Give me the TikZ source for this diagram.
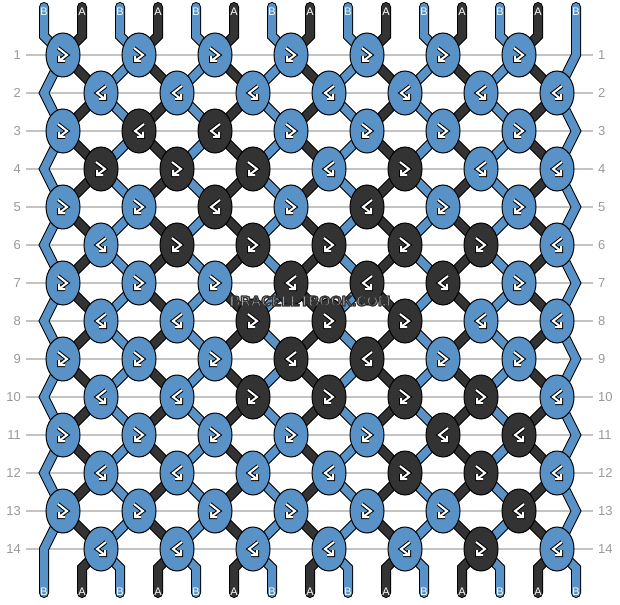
\documentclass[tikz,border=0pt]{standalone}
\usepackage{fontspec}
\setmainfont{Liberation Sans}
\usetikzlibrary{shapes.geometric}

\definecolor{strandb}{HTML}{5892C6}
\definecolor{stranda}{HTML}{333333}
\definecolor{rowgray}{HTML}{999999}
\definecolor{linegray}{HTML}{C4C4C4}
\definecolor{wmgray}{HTML}{B4B4B4}

\pgfdeclarelayer{grid}
\pgfdeclarelayer{strings}
\pgfsetlayers{grid,strings,main}

\newcommand\outlinetext[1]{\special{pdf:literal direct 2 Tr 0.2 0.2 0.2 RG 1.25 w 1 j}#1\special{pdf:literal direct 0 Tr}}

\tikzset{
  knot/.style={ellipse,draw,line width=1pt,minimum width=34pt,minimum height=44pt,inner sep=0pt},
  strb/.style={draw=black,line width=1pt,double=strandb,double distance=8pt,line join=miter,line cap=round},
  stra/.style={draw=black,line width=1pt,double=stranda,double distance=8pt,line join=miter,line cap=round},
  iconline/.style={draw=black,line width=1pt,double=white,double distance=2pt,line join=miter},
  endlabel/.style={text=white,font=\fontsize{11}{11}\selectfont,inner sep=0pt},
  rowlabel/.style={text=rowgray,font=\fontsize{13}{13}\selectfont,inner sep=0pt},
  gridline/.style={draw=linegray,line width=1.2pt},
  wmtext/.style={text=wmgray,font=\bfseries\fontsize{14.5}{14.5}\selectfont,inner sep=0pt},
  fbicon/.pic={\draw[iconline] (-5,-7) -- (4,0) -- (-4,6) (-4,1) -- (-4,6) -- (2,6);},
  bficon/.pic={\draw[iconline] (5,-7) -- (-4,0) -- (4,6) (4,1) -- (4,6) -- (-2,6);},
}

\begin{document}
\begin{tikzpicture}[x=1pt,y=-1pt]
  \useasboundingbox (0,0) rectangle (620,604);

  % knots, 0 = B, 1 = A
  \foreach \r/\pat in {1/{0,0,0,0,0,0,0},2/{0,0,0,0,0,0,0},3/{0,1,1,0,0,0,0},
      4/{1,1,1,0,1,0,0},5/{0,0,1,0,1,0,0},6/{0,1,1,1,1,1,0},7/{0,0,0,1,1,1,0},
      8/{0,0,1,1,1,0,0},9/{0,0,0,1,1,0,0},10/{0,0,1,1,1,1,0},11/{0,0,0,0,0,1,1},
      12/{0,0,0,0,1,1,0},13/{0,0,0,0,0,0,1},14/{0,0,0,0,0,1,0}} {
    \pgfmathsetmacro\y{55+38*(\r-1)}
    \node[rowlabel,anchor=east] (rl-\r) at (21,\y) {\r};
    \node[rowlabel,anchor=west] (rr-\r) at (598,\y) {\r};
    \foreach \c [count=\k] in \pat {
      \pgfmathsetmacro\x{63+38*mod(\r+1,2)+76*(\k-1)}
      \ifnum\c=1 \def\kfill{stranda}\else\def\kfill{strandb}\fi
      \node[knot,fill=\kfill] (k-\r-\k) at (\x,\y) {};
      \pgfmathtruncatemacro\t{mod(\r+\c,2)}
      \ifnum\t=1 \pic at (k-\r-\k) {fbicon}; \else \pic at (k-\r-\k) {bficon}; \fi
    }
  }

  % ends of the strings
  \foreach \i in {1,...,15} {
    \pgfmathsetmacro\x{44+38*(\i-1)}
    \coordinate (top-\i) at (\x,7);
    \coordinate (tb-\i) at (\x,36);
    \coordinate (bb-\i) at (\x,568);
    \coordinate (bot-\i) at (\x,593);
    \ifodd\i \def\lab{B}\else\def\lab{A}\fi
    \node[endlabel] (lt-\i) at (\x,12) {\lab};
    \node[endlabel] (lb-\i) at (\x,591.5) {\lab};
  }
  \foreach \r in {2,4,...,14} \coordinate (el-\r) at (44,{55+38*(\r-1)});
  \foreach \r in {1,3,...,13} \coordinate (er-\r) at (576,{55+38*(\r-1)});

  \begin{pgfonlayer}{grid}
    \foreach \r in {1,...,14}
      \draw[gridline,shorten <=5pt,shorten >=5pt] (rl-\r.east) -- (rr-\r.west);
  \end{pgfonlayer}

  \begin{pgfonlayer}{strings}
    \foreach \r in {1,...,13} {
      \pgfmathtruncatemacro\n{\r+1}
      \foreach \k in {1,...,7} {
        \draw[stra] (k-\r-\k.center) -- (k-\n-\k.center);
        \ifodd\r
          \ifnum\k>1 \pgfmathtruncatemacro\m{\k-1}\draw[strb] (k-\r-\k.center) -- (k-\n-\m.center);\fi
        \else
          \ifnum\k<7 \pgfmathtruncatemacro\m{\k+1}\draw[strb] (k-\r-\k.center) -- (k-\n-\m.center);\fi
        \fi
      }
    }
    % edges
    \foreach \r in {1,3,...,11} {
      \pgfmathtruncatemacro\n{\r+1}
      \pgfmathtruncatemacro\m{\r+2}
      \draw[strb] (k-\r-1.center) -- (el-\n) -- (k-\m-1.center);
    }
    \foreach \r in {2,4,...,12} {
      \pgfmathtruncatemacro\n{\r+1}
      \pgfmathtruncatemacro\m{\r+2}
      \draw[strb] (k-\r-7.center) -- (er-\n) -- (k-\m-7.center);
    }
    \draw[strb] (k-13-1.center) -- (el-14) -- (bot-1);
    \draw[strb] (top-15) -- (er-1) -- (k-2-7.center);
    % top and bottom
    \foreach \i in {1,...,14} {
      \pgfmathtruncatemacro\k{(\i+1)/2}
      \ifodd\i \def\st{strb}\else\def\st{stra}\fi
      \draw[\st] (top-\i) -- (tb-\i) -- (k-1-\k.center);
    }
    \foreach \i in {2,...,15} {
      \pgfmathtruncatemacro\k{\i/2}
      \ifodd\i \def\st{strb}\else\def\st{stra}\fi
      \draw[\st] (k-14-\k.center) -- (bb-\i) -- (bot-\i);
    }
  \end{pgfonlayer}

  % watermark
  \node[wmtext] (wm) at (310,301) {\outlinetext{BRACELETBOOK.COM}};
\end{tikzpicture}
\end{document}
